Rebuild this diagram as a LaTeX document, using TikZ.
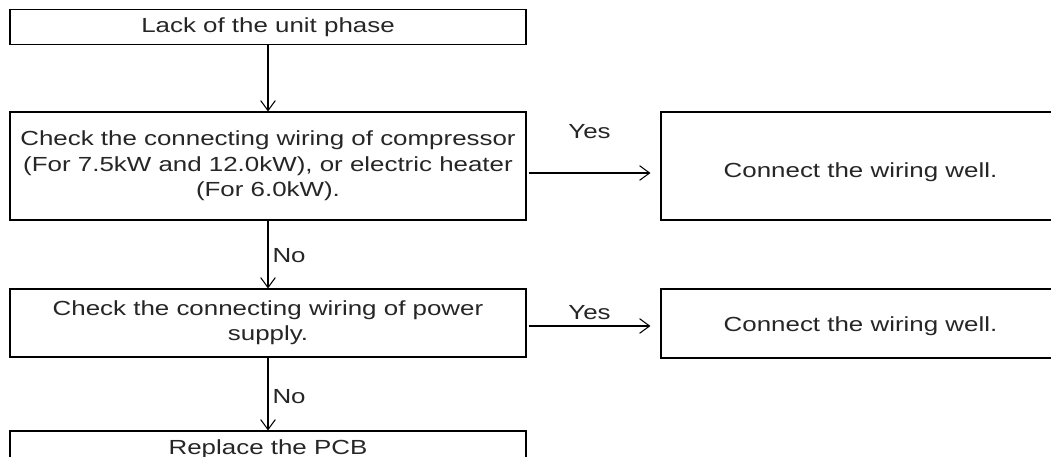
\documentclass[tikz,border=0pt]{standalone}
\usepackage{fontspec}
\setmainfont{Liberation Sans}[FakeStretch=1.27]
\usetikzlibrary{arrows.meta}
\begin{document}
\begin{tikzpicture}[x=0.75pt,y=-0.75pt,
  box/.style={draw=black,line width=0.8pt,inner sep=0pt,align=center,
    font=\fontsize{15.3pt}{19pt}\selectfont,text=black!85},
  lbl/.style={inner sep=0pt,font=\fontsize{15.3pt}{19pt}\selectfont,text=black!85},
  arr/.style={line width=0.8pt,-{Straight Barb[length=7.5pt,width=11pt,line width=0.8pt]}}]
\useasboundingbox[fill=white] (0,0) rectangle (1051,457);
\node[box,minimum width=387pt,minimum height=26.25pt] (top) at (268,27) {Lack of the unit phase};
\node[box,minimum width=387pt,minimum height=81pt] (chk1) at (268,166)
  {Check the connecting wiring of compressor\\(For 7.5kW and 12.0kW), or electric heater\\(For 6.0kW).};
\node[box,minimum width=387pt,minimum height=51pt] (chk2) at (268,323)
  {Check the connecting wiring of power\\supply.};
\node[box,minimum width=387pt,minimum height=27pt] (pcb) at (268,449) {Replace the PCB};
\node[box,minimum width=299.25pt,minimum height=81pt,
  label={[lbl,yshift=-4.5pt]center:Connect the wiring well.}] (fix1) at (860.5,166) {};
\node[box,minimum width=299.25pt,minimum height=51.75pt,
  label={[lbl,yshift=-2pt]center:Connect the wiring well.}] (fix2) at (860.5,323.5) {};
\draw[arr] (top.south) -- (chk1.north);
\draw[arr] (chk1.south) -- node[lbl,anchor=west,xshift=3pt,yshift=-1pt]{No} (chk2.north);
\draw[arr] (chk2.south) -- node[lbl,anchor=west,xshift=3pt,yshift=-2pt]{No} (pcb.north);
\draw[arr] ([shift={(2,7)}]chk1.east) -- node[lbl,above=25pt]{Yes} ([shift={(-10,7)}]fix1.west);
\draw[arr] ([shift={(2,3)}]chk2.east) -- node[lbl,above=4pt]{Yes} ([shift={(-10,2.5)}]fix2.west);
\end{tikzpicture}
\end{document}
